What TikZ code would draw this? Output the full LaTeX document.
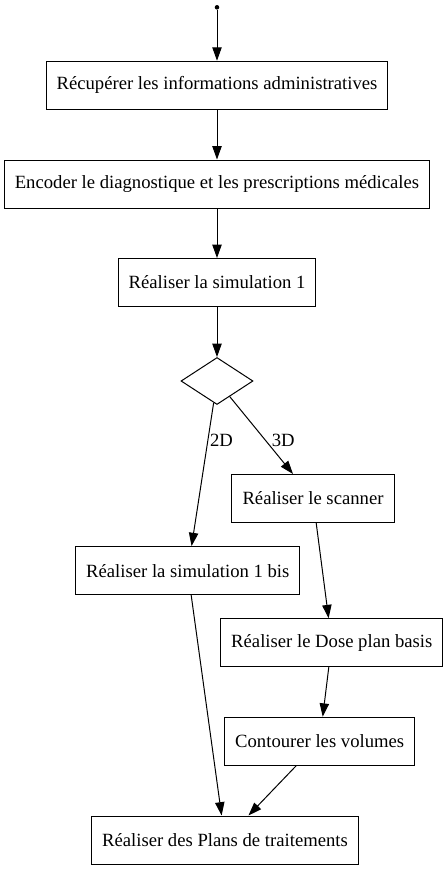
\documentclass[tikz,border=0pt]{standalone}
\usepackage{fontspec}
\setmainfont{Liberation Serif}
\usetikzlibrary{positioning,arrows.meta,shapes.geometric}
\tikzset{
    box/.style={draw=black, fill=white, font=\fontsize{14}{16}\selectfont, inner xsep=7.92pt, inner ysep=0pt, minimum height=36pt, line width=0.75pt},
    choice/.style={draw=black, diamond, minimum width=54pt, minimum height=35.25pt, inner sep=0pt, line width=0.75pt},
    startdot/.style={circle, fill=black, inner sep=0pt, minimum size=3.4pt},
    arrow/.style={-{Triangle[length=10pt,width=7pt]}, line width=0.75pt},
    lbl/.style={font=\fontsize{14}{16}\selectfont, inner sep=0pt}
}
\begin{document}
\begin{tikzpicture}[x=0.75pt,y=-0.75pt]
\useasboundingbox (0,0) rectangle (448,869);
\node[startdot] (start) at (217,7.3) {};
\node[box] (infos) at (217,85.2) {Récupérer les informations administratives};
\node[box] (diag) at (217,184) {Encoder le diagnostique et les prescriptions médicales};
\node[box] (simu) at (217,282.5) {Réaliser la simulation 1};
\node[choice] (dim) at (217,381) {};
\node[box] (scanner) at (313,498.5) {Réaliser le scanner};
\node[box] (simubis) at (187.8,570.6) {Réaliser la simulation 1 bis};
\node[box] (dose) at (331.8,642.7) {Réaliser le Dose plan basis};
\node[box] (volumes) at (319.7,741.2) {Contourer les volumes};
\node[box] (plans) at (225,840) {Réaliser des Plans de traitements};
\node[lbl] (l2d) at (221.5,440) {2D};
\node[lbl] (l3d) at (283.3,440) {3D};
\draw[arrow] (start) -- (infos);
\draw[arrow] (infos) -- (diag);
\draw[arrow] (diag) -- (simu);
\draw[arrow] (simu) -- (dim);
\draw[arrow] (dim) -- (simubis);
\draw[arrow] (dim) -- (scanner);
\draw[arrow] (scanner) -- (dose);
\draw[arrow] (dose) -- (volumes);
\draw[arrow] (simubis) -- (plans);
\draw[arrow] (volumes) -- (plans);
\end{tikzpicture}
\end{document}
